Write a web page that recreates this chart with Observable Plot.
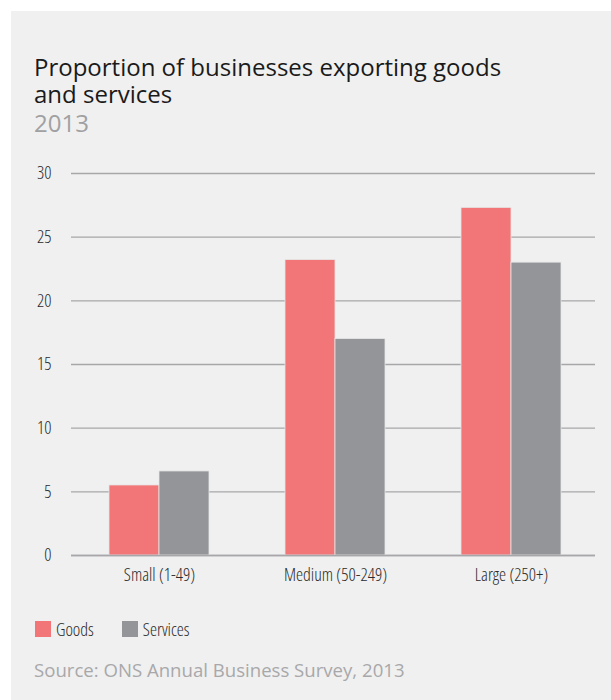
<!DOCTYPE html>
<html>
<head>
<meta charset="utf-8">
<script src="https://cdn.jsdelivr.net/npm/d3@7"></script>
<script src="https://cdn.jsdelivr.net/npm/@observablehq/plot@0.6"></script>
<style>
  html, body { margin: 0; padding: 0; background: #ffffff; }
  #panel { position: absolute; left: 11px; top: 11px; width: 600px; height: 689px; background: #f0f0f0; }
  .title { position: absolute; left: 23px; top: 41.7px; font-family: "Open Sans", sans-serif; font-size: 24px; line-height: 27px; color: #1a1a1a; white-space: nowrap; }
  .sub { position: absolute; left: 23px; top: 96.7px; font-family: "Open Sans", sans-serif; font-size: 24px; line-height: 30px; color: #a0a0a2; }
  #chart { position: absolute; left: 0; top: 150px; }
  #chart svg { font-family: "Open Sans", sans-serif; font-stretch: 75%; font-weight: 350; font-size: 17.8px; color: #2a2a2a; }
  .legend { position: absolute; left: 24px; top: 610px; height: 16px; font-family: "Open Sans", sans-serif; font-stretch: 75%; font-weight: 350; font-size: 17.8px; color: #2a2a2a; display: flex; align-items: center; }
  .legend .sw { width: 16px; height: 16px; display: inline-block; margin-right: 5px; }
  .legend .item { display: flex; align-items: center; margin-right: 28px; }
  .source { position: absolute; left: 23px; top: 646px; font-family: "Open Sans", sans-serif; font-size: 18.6px; line-height: 1.362; color: #a8a8aa; white-space: nowrap; }
</style>
</head>
<body>
<div id="panel">
  <div class="title">Proportion of businesses exporting goods<br>and services</div>
  <div class="sub">2013</div>
  <div id="chart"></div>
  <div class="legend" id="legend"></div>
  <div class="source">Source: ONS Annual Business Survey, 2013</div>
</div>
<script>
const categories = ["Small (1-49)", "Medium (50-249)", "Large (250+)"];
const seriesNames = ["Goods", "Services"];
const goods = [5.5, 23.2, 27.3];
const services = [6.6, 17.0, 23.0];
const yTicks = [0, 5, 10, 15, 20, 25, 30];
const colors = ["#f27678", "#939598"];

const goodsData = categories.map((c, i) => ({category: c, value: goods[i]}));
const servicesData = categories.map((c, i) => ({category: c, value: services[i]}));

const bandHalf = 50;

const chart = Plot.plot({
  width: 600,
  height: 434,
  marginLeft: 60,
  marginRight: 12,
  marginTop: 12,
  marginBottom: 40,
  style: { background: "transparent" },
  x: { domain: categories, paddingInner: 0.432, paddingOuter: 0.216, label: null, tickSize: 0, tickPadding: 13 },
  y: { domain: [0, 30], ticks: yTicks, label: null, tickSize: 0, tickPadding: 20 },
  marks: [
    Plot.ruleY(yTicks, { stroke: "#a7a7aa", strokeWidth: 1.3, insetRight: 4 }),
    Plot.barY(goodsData, { x: "category", y: "value", fill: colors[0], insetRight: bandHalf, stroke: "#e6e6e6", strokeWidth: 0.8 }),
    Plot.barY(servicesData, { x: "category", y: "value", fill: colors[1], insetLeft: bandHalf, stroke: "#e6e6e6", strokeWidth: 0.8 }),
    Plot.ruleY([0], { stroke: "#a7a7aa", strokeWidth: 1.3, insetRight: 4 })
  ]
});
document.getElementById("chart").appendChild(chart);

const legend = document.getElementById("legend");
seriesNames.forEach((name, i) => {
  const item = document.createElement("span");
  item.className = "item";
  const sw = document.createElement("span");
  sw.className = "sw";
  sw.style.background = colors[i];
  item.appendChild(sw);
  item.appendChild(document.createTextNode(name));
  legend.appendChild(item);
});
</script>
</body>
</html>
